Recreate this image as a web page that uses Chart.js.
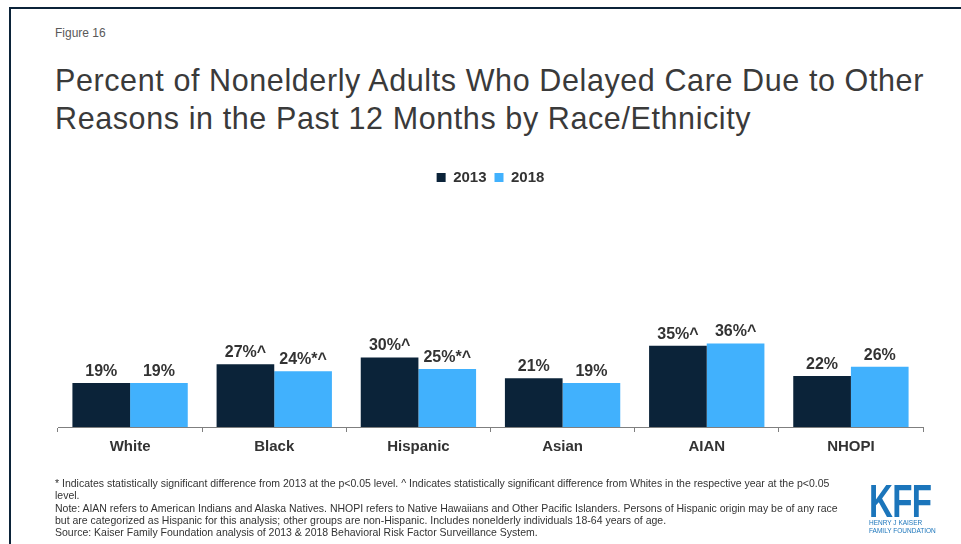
<!DOCTYPE html>
<html>
<head>
<meta charset="utf-8">
<script src="https://cdn.jsdelivr.net/npm/chart.js@4.4.0/dist/chart.umd.min.js"></script>
<style>
    html, body { margin: 0; padding: 0; background: #fff; }
    body { width: 961px; height: 544px; position: relative; overflow: hidden; font-family: "Liberation Sans", Arial, sans-serif; }
    .frame { position: absolute; left: 9px; top: 7px; width: 960px; height: 540px; border-top: 2px solid #0b2339; border-left: 2px solid #0b2339; }
    .fig { position: absolute; left: 55px; top: 26px; font-size: 12px; color: #595959; }
    .title { position: absolute; left: 55px; top: 61px; font-size: 30.5px; letter-spacing: 0.6px; line-height: 38px; color: #3a3a3a; white-space: nowrap; }
    .chart-box { position: absolute; left: 0; top: 0; width: 961px; height: 544px; }
    .notes { position: absolute; left: 55px; top: 477px; font-size: 10.5px; line-height: 12.3px; color: #333; white-space: nowrap; }
    .logo { position: absolute; left: 869px; top: 483px; color: #1b75bb; }
    .logo .kff { font-weight: bold; font-size: 46px; line-height: 36px; transform: scaleX(0.72); transform-origin: left top; letter-spacing: -1px; }
    .logo .sub { font-size: 6.5px; line-height: 7.5px; margin-top: 0px; white-space: nowrap; }
</style>
</head>
<body>
<div class="frame"></div>
<div class="fig">Figure 16</div>
<div class="title">Percent of Nonelderly Adults Who Delayed Care Due to Other<br>Reasons in the Past 12 Months by Race/Ethnicity</div>
<div class="chart-box"><canvas id="delayChart"></canvas></div>
<div class="notes">* Indicates statistically significant difference from 2013 at the p&lt;0.05 level. ^ Indicates statistically significant difference from Whites in the respective year at the p&lt;0.05<br>level.<br>Note: AIAN refers to American Indians and Alaska Natives. NHOPI refers to Native Hawaiians and Other Pacific Islanders. Persons of Hispanic origin may be of any race<br>but are categorized as Hispanic for this analysis; other groups are non-Hispanic. Includes nonelderly individuals 18-64 years of age.<br>Source: Kaiser Family Foundation analysis of 2013 &amp; 2018 Behavioral Risk Factor Surveillance System.</div>
<div class="logo">
    <div class="kff">KFF</div>
    <div class="sub">HENRY J KAISER<br>FAMILY FOUNDATION</div>
</div>

<script>
    // Chart data
    const categories = ['White', 'Black', 'Hispanic', 'Asian', 'AIAN', 'NHOPI'];
    const values2013 = [19, 27, 30, 21, 35, 22];
    const values2018 = [19, 24, 25, 19, 36, 26];
    const notes2013 = ['', '^', '^', '', '^', ''];
    const notes2018 = ['', '*^', '*^', '', '^', ''];
    const seriesNames = ['2013', '2018'];

    const darkNavy = '#0b2339';
    const lightBlue = '#41b1fd';
    const textGray = '#333333';

    // Draws the value labels above each bar
    const valueLabels = {
        id: 'valueLabels',
        afterDatasetsDraw(chart) {
            const ctx = chart.ctx;
            const notes = [notes2013, notes2018];
            ctx.save();
            ctx.font = 'bold 16px "Liberation Sans", Arial, sans-serif';
            ctx.fillStyle = textGray;
            ctx.textAlign = 'center';
            ctx.textBaseline = 'alphabetic';
            chart.data.datasets.forEach((ds, i) => {
                const meta = chart.getDatasetMeta(i);
                meta.data.forEach((bar, j) => {
                    ctx.fillText(ds.data[j] + '%' + notes[i][j], bar.x, bar.y - 7);
                });
            });
            ctx.restore();
        }
    };

    const ctx = document.getElementById('delayChart').getContext('2d');
    new Chart(ctx, {
        type: 'bar',
        data: {
            labels: categories,
            datasets: [{
                label: seriesNames[0],
                data: values2013,
                backgroundColor: darkNavy
            }, {
                label: seriesNames[1],
                data: values2018,
                backgroundColor: lightBlue
            }]
        },
        options: {
            responsive: true,
            maintainAspectRatio: false,
            animation: false,
            devicePixelRatio: 1,
            layout: {
                padding: { top: 162, left: 58, right: 38, bottom: 82 }
            },
            datasets: {
                bar: { categoryPercentage: 0.8, barPercentage: 1.0 }
            },
            scales: {
                x: {
                    grid: { display: true, drawOnChartArea: false, drawTicks: true, tickLength: 5, color: '#7f7f7f', offset: true },
                    border: { display: true, color: '#7f7f7f', width: 1 },
                    ticks: {
                        color: textGray,
                        padding: 6,
                        font: { family: '"Liberation Sans", Arial, sans-serif', size: 15, weight: 'bold' }
                    }
                },
                y: {
                    display: false,
                    min: 0,
                    max: 100
                }
            },
            plugins: {
                legend: {
                    position: 'top',
                    labels: {
                        boxWidth: 9,
                        boxHeight: 9,
                        padding: 8,
                        color: textGray,
                        font: { family: '"Liberation Sans", Arial, sans-serif', size: 15, weight: 'bold' }
                    }
                },
                tooltip: { enabled: false }
            }
        },
        plugins: [valueLabels]
    });
</script>
</body>
</html>
